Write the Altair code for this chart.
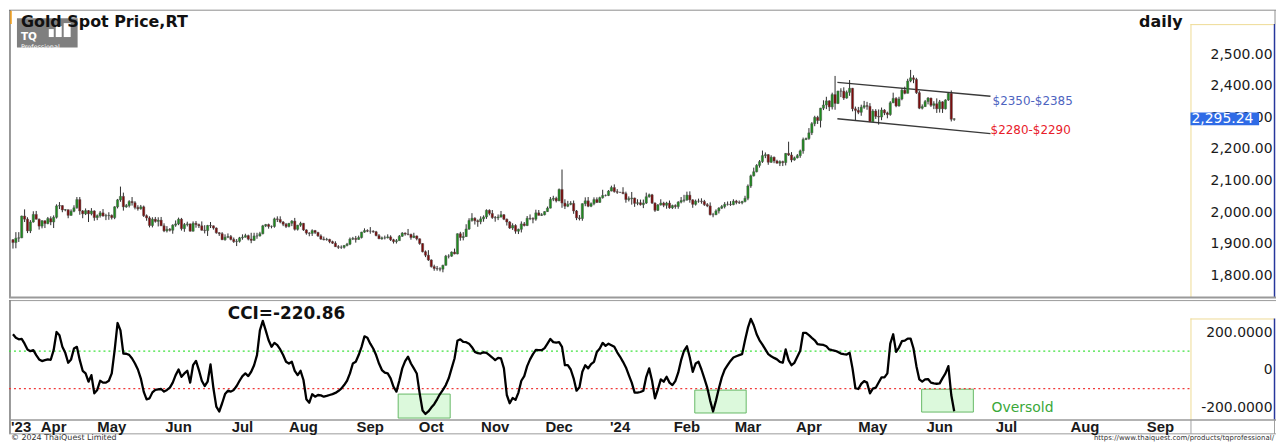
import altair as alt
import pandas as pd

# ---------------- data ----------------
# daily candles, 14 Mar 2023 .. 10 Jun 2024 (one row per weekday)
open_ = [
    1913,1904,1918,1919,1988,1978,1941,1969,1993,1978,1956,1973,1964,1980,
    1969,1984,2020,2021,2007,2008,1990,2003,2014,2040,2004,1995,2005,1995,2004,1983,1989,1998,1988,1989,
    1990,1983,2017,2039,2050,2017,2021,2034,2030,2015,2011,2017,1989,1982,1958,1978,1971,1975,1957,1941,1946,1943,1959,
    1963,1978,1948,1961,1963,1940,1965,1961,1957,1943,1942,1958,1957,1950,1935,1932,1913,1921,1923,1914,1907,1908,
    1919,1921,1926,1915,1911,1925,1925,1932,1957,1961,1955,1955,1979,1977,1969,1962,1955,1965,1972,1946,1959,
    1965,1944,1934,1933,1942,1936,1925,1915,1913,1914,1907,1902,1891,1889,1889,1895,1899,1915,1917,1914,1920,1937,1942,
    1940,1940,1938,1926,1916,1919,1919,1922,1913,1907,1910,1924,1934,1931,1930,1920,1925,1916,1901,1875,1864,
    1849,1828,1822,1821,1820,1832,1861,1861,1874,1868,1932,1920,1923,1947,1974,1981,1973,1970,1979,1985,2006,1996,
    1983,1982,1985,1992,1978,1969,1950,1958,1940,1946,1963,1958,1981,1980,1978,1998,1990,1992,2002,2013,2041,2044,
    2036,2072,2029,2019,2025,2028,2004,1982,1980,2027,2036,2019,2027,2040,2031,2046,2053,2053,2067,2078,2065,
    2063,2063,2059,2040,2043,2045,2028,2030,2024,2029,2049,2055,2029,2006,2023,2029,2022,2029,2014,2021,2018,2032,2037,
    2039,2054,2039,2025,2035,2035,2034,2024,2020,1992,1992,2004,2013,2018,2025,2025,2024,2035,2031,2030,2034,
    2044,2083,2115,2128,2148,2160,2179,2182,2158,2174,2162,2155,2160,2157,2186,2181,2165,2172,2179,2194,2230,
    2233,2251,2280,2300,2290,2329,2339,2352,2333,2372,2344,2383,2383,2361,2379,2392,2327,2322,2316,2332,2337,2335,
    2286,2320,2303,2301,2323,2314,2309,2346,2360,2336,2358,2386,2376,2415,2425,2420,2378,2329,2334,2350,2361,2338,2343,
    2327,2349,2327,2355,2376,2294,
]
high = [
    1915,1937,1937,1989,2009,1984,1975,2003,2004,1980,1975,1974,1985,1987,
    1990,2025,2032,2022,2010,2008,2009,2022,2048,2048,2007,2012,2007,2013,2006,1993,2004,2010,1995,2000,
    1993,2019,2042,2081,2062,2026,2038,2048,2035,2022,2023,2021,1993,1987,1984,1985,1984,1985,1965,1956,1950,1962,1974,
    1983,1982,1966,1970,1964,1971,1972,1964,1971,1959,1960,1969,1958,1952,1937,1937,1930,1933,1928,1920,1915,1922,
    1930,1932,1929,1935,1935,1935,1938,1960,1963,1964,1958,1983,1987,1987,1972,1966,1966,1975,1982,1960,1970,
    1966,1946,1937,1946,1944,1938,1930,1923,1919,1916,1910,1908,1896,1895,1896,1903,1920,1922,1925,1926,1938,1949,1946,
    1953,1943,1941,1931,1923,1926,1930,1927,1916,1915,1928,1937,1936,1947,1932,1935,1926,1917,1902,1879,1880,
    1851,1834,1830,1826,1834,1865,1867,1876,1885,1933,1938,1937,1962,1981,1997,1984,1977,1987,1990,2009,2009,2007,
    1988,1993,2004,1994,1980,1972,1965,1962,1948,1971,1969,1988,1993,1984,2008,2007,1997,2003,2018,2048,2052,2049,
    2075,2135,2041,2036,2035,2037,2007,1991,2028,2047,2048,2031,2047,2047,2049,2071,2056,2070,2084,2088,2073,
    2064,2079,2065,2050,2064,2046,2041,2040,2040,2062,2059,2058,2031,2026,2041,2033,2033,2037,2024,2025,2035,2048,2055,
    2065,2066,2041,2040,2043,2044,2039,2029,2031,1998,2009,2016,2023,2032,2034,2035,2041,2039,2037,2036,2052,
    2088,2119,2141,2152,2165,2195,2189,2184,2180,2176,2166,2164,2163,2187,2223,2190,2176,2184,2198,2236,2236,
    2266,2285,2305,2305,2330,2354,2365,2354,2378,2431,2384,2392,2395,2385,2418,2393,2334,2333,2340,2352,2349,2345,
    2326,2326,2325,2331,2326,2318,2351,2378,2364,2365,2392,2397,2422,2450,2433,2425,2384,2341,2355,2364,2362,2351,2360,
    2355,2351,2357,2379,2385,2297,
]
low = [
    1885,1886,1906,1918,1969,1934,1934,1967,1977,1945,1949,1950,1962,1959,
    1950,1980,2010,2000,2003,1981,1989,2000,2011,1992,1981,1991,1969,1990,1973,1975,1983,1986,1975,1976,
    1977,1978,2012,2033,2005,2014,2015,2021,2009,2005,2008,1985,1973,1952,1952,1967,1955,1957,1937,1936,1939,1932,1954,
    1959,1942,1938,1955,1939,1939,1951,1950,1942,1933,1925,1950,1945,1932,1925,1912,1910,1918,1911,1903,1893,1904,
    1913,1920,1911,1902,1910,1916,1923,1930,1953,1948,1949,1951,1969,1965,1956,1950,1952,1956,1942,1942,1954,
    1941,1929,1924,1925,1931,1922,1913,1911,1910,1902,1900,1890,1884,1884,1885,1892,1896,1912,1904,1913,1917,1935,1937,
    1932,1935,1924,1915,1913,1914,1917,1909,1901,1901,1910,1922,1926,1927,1913,1918,1911,1897,1873,1858,1846,
    1825,1815,1815,1813,1810,1832,1854,1859,1867,1867,1910,1911,1922,1944,1970,1961,1954,1962,1970,1979,1990,1979,
    1970,1975,1983,1975,1958,1947,1944,1932,1931,1936,1955,1956,1975,1965,1973,1990,1988,1990,2001,2012,2035,2031,
    2035,2014,2010,2016,2022,1995,1975,1974,1973,2019,2016,2016,2022,2029,2030,2043,2050,2051,2066,2062,2058,
    2062,2057,2030,2034,2024,2017,2022,2021,2013,2026,2046,2026,2001,2004,2021,2016,2011,2011,2010,2011,2011,2028,2031,
    2036,2030,2014,2021,2030,2027,2020,2016,1990,1984,1991,1996,2010,2012,2021,2020,2022,2025,2026,2025,2031,
    2038,2077,2113,2126,2141,2156,2171,2150,2156,2155,2154,2146,2146,2148,2178,2158,2163,2170,2172,2185,2228,
    2229,2244,2272,2279,2268,2323,2326,2320,2325,2324,2342,2364,2355,2359,2368,2319,2291,2310,2305,2327,2324,2285,
    2285,2295,2277,2291,2307,2297,2305,2345,2332,2334,2354,2373,2376,2411,2408,2374,2326,2325,2333,2341,2333,2326,2314,
    2315,2314,2325,2352,2287,2289,
]
close = [
    1904,1918,1919,1988,1978,1941,1969,1993,1978,1956,1973,1964,1980,1969,
    1984,2020,2021,2007,2008,1990,2003,2014,2040,2004,1995,2005,1995,2004,1983,1989,1998,1988,1989,1990,
    1983,2017,2039,2050,2017,2021,2034,2030,2015,2011,2017,1989,1982,1958,1978,1971,1975,1957,1941,1946,1943,1959,1963,
    1978,1948,1961,1963,1940,1965,1961,1957,1943,1942,1958,1957,1950,1935,1932,1913,1921,1923,1914,1907,1908,1919,
    1921,1926,1915,1911,1925,1925,1932,1957,1961,1955,1955,1979,1977,1969,1962,1955,1965,1972,1946,1959,1965,
    1944,1934,1933,1942,1936,1925,1915,1913,1914,1907,1902,1891,1889,1889,1895,1899,1915,1917,1914,1920,1937,1942,1940,
    1940,1938,1926,1916,1919,1919,1922,1913,1907,1910,1924,1934,1931,1930,1920,1925,1916,1901,1875,1864,1849,
    1828,1822,1821,1820,1832,1861,1861,1874,1868,1932,1920,1923,1947,1974,1981,1973,1970,1979,1985,2006,1996,1983,
    1982,1985,1992,1978,1969,1950,1958,1940,1946,1963,1958,1981,1980,1978,1998,1990,1992,2002,2013,2041,2044,2036,
    2072,2029,2019,2025,2028,2004,1982,1980,2027,2036,2019,2027,2040,2031,2046,2053,2053,2067,2078,2065,2063,
    2063,2059,2040,2043,2045,2028,2030,2024,2029,2049,2055,2029,2006,2023,2029,2022,2029,2014,2021,2018,2032,2037,2039,
    2054,2039,2025,2035,2035,2034,2024,2020,1992,1992,2004,2013,2018,2025,2025,2024,2035,2031,2030,2034,2044,
    2083,2115,2128,2148,2160,2179,2182,2158,2174,2162,2155,2160,2157,2186,2181,2165,2172,2179,2194,2230,2233,
    2251,2280,2300,2290,2329,2339,2352,2333,2372,2344,2383,2383,2361,2379,2392,2327,2322,2316,2332,2337,2335,2286,
    2320,2303,2301,2323,2314,2309,2346,2360,2336,2358,2386,2376,2415,2425,2420,2378,2329,2334,2350,2361,2338,2343,2327,
    2349,2327,2355,2376,2294,2295.24,
]
cci = [
    190,171,163,165,140,109,100,105,79,56,
    47,52,56,54,105,202,185,123,91,38,
    56,114,123,52,-5,-19,-63,-28,-125,-107,
    -58,-68,-68,-58,-19,105,250,211,87,86,
    80,61,34,2,-45,-116,-157,-152,-120,-107,
    -104,-102,-116,-107,-95,-68,-28,2,-37,-19,
    -5,-68,25,48,-1,-58,-86,-63,29,-98,
    -196,-222,-178,-129,-111,-116,-107,-86,-58,-33,
    -19,-33,-10,25,79,211,261,211,158,123,
    144,132,109,79,43,34,43,-5,-28,-5,
    -54,-157,-175,-130,-143,-134,-136,-143,-139,-134,
    -129,-123,-113,-100,-81,-58,-19,34,43,79,
    123,179,171,140,114,79,34,-1,-15,-19,
    -45,-90,-116,-58,8,47,70,34,8,-19,
    -125,-217,-235,-222,-201,-183,-157,-129,-107,-81,
    -45,8,61,155,163,149,148,140,121,96,
    89,87,94,91,79,66,52,64,61,8,
    -134,-178,-150,-160,-121,-58,-33,20,56,84,
    107,105,105,116,140,165,148,146,148,123,
    25,25,2,-45,-111,-93,-10,25,8,31,
    43,96,114,144,128,140,132,123,94,70,
    43,13,-28,-68,-121,-121,-118,-111,-37,8,
    -58,-152,-104,-51,-63,-37,-68,-81,-60,-15,
    52,102,126,66,-10,34,43,2,-45,-95,
    -164,-222,-164,-98,-40,1,25,48,66,73,
    79,84,158,225,272,238,190,158,135,109,
    84,73,64,56,43,38,109,52,25,38,
    70,102,197,197,185,171,158,137,135,133,
    126,109,105,102,96,87,84,82,91,8,
    -98,-102,-75,-60,-68,-125,-100,-95,-67,-40,
    -40,-19,140,190,96,119,153,156,167,167,
    114,20,-51,-63,-51,-49,-68,-72,-74,-72,
    -44,-19,20,-134,-220.86,
]

month_names = ["'23", "Apr", "May", "Jun", "Jul", "Aug", "Sep", "Oct", "Nov", "Dec",
               "'24", "Feb", "Mar", "Apr", "May", "Jun", "Jul", "Aug", "Sep"]
month_pos = [2.8, 14, 34, 57, 79, 100, 123, 144, 166, 188, 209, 232, 253, 274, 296, 319, 342, 369, 395]

price_ticks = [1800, 1900, 2000, 2100, 2200, 2300, 2400, 2500]
cci_ticks = [-200, 0, 200]
cci_levels = [100, -100]
cci_level_colors = ["#3fe23f", "#f03a3a"]

# trend channel (day index, price)
chan_x1 = [283.8, 283.8]
chan_y1 = [2410.7, 2295.6]
chan_x2 = [336.5, 336.5]
chan_y2 = [2366.7, 2248.7]

# oversold boxes (day index, CCI)
box_x1 = [132.6, 234.7, 312.8]
box_x2 = [150.5, 252.4, 330.6]
box_top = [-129, -108, -103]
box_bot = [-257, -230, -225]

title_text = "Gold Spot Price,RT"
period_text = "daily"
upper_text = "$2350-$2385"
lower_text = "$2280-$2290"
oversold_text = "Oversold"
logo_text = "TQ"
logo_sub = "Professional"
copyright_text = "\u00a9 2024 ThaiQuest Limited"
url_text = "https://www.thaiquest.com/products/tqprofessional/"

# ---------------- chart ----------------
W, H1, H2 = 1187, 290, 121
GREEN, RED = "#1e8c1e", "#7e0a0a"
YEL, BLUE = "#eedb95", "#27379c"

df = pd.DataFrame({"i": list(range(len(close))), "open": open_, "high": high,
                   "low": low, "close": close, "cci": cci})
last = df.tail(1)

xs = alt.Scale(domain=[-1.37, 405], nice=False, zero=False, padding=0)
ys = alt.Scale(domain=[1730, 2642], nice=False, zero=False)
cs = alt.Scale(domain=[-267, 375], nice=False, zero=False)

price_axis = alt.Axis(orient="right", values=price_ticks, format=",.2f", labelAlign="right",
                      labelBaseline="middle", labelPadding=83, ticks=False, tickSize=0,
                      domain=False, grid=False, labelFont="DejaVu Sans", labelFontSize=14,
                      labelColor="#1a1a1a", labelOverlap=False, labelFlush=False, title=None)
cci_axis = alt.Axis(orient="right", values=cci_ticks,
                    labelExpr="datum.value == 0 ? '0' : (datum.value < 0 ? '-' : '') + format(abs(datum.value), '.4f')",
                    labelAlign="right", labelBaseline="middle", labelPadding=83, ticks=False,
                    tickSize=0, domain=False, grid=False, labelFont="DejaVu Sans", labelFontSize=14,
                    labelColor="#1a1a1a", labelOverlap=False, labelFlush=False, title=None)

one = pd.DataFrame({"k": [0]})


def seg(x1, y1, x2, y2, color, w=1.0):
    return alt.Chart(one).mark_rule(color=color, strokeWidth=w, strokeCap="butt").encode(
        x=alt.value(x1), x2=alt.value(x2), y=alt.value(y1), y2=alt.value(y2))


def box(x1, y1, x2, y2, color):
    return alt.Chart(one).mark_rect(color=color).encode(
        x=alt.value(x1), x2=alt.value(x2), y=alt.value(y1), y2=alt.value(y2))


def label(txt, x, y, **kw):
    return alt.Chart(pd.DataFrame({"t": [txt]})).mark_text(**kw).encode(
        x=alt.value(x), y=alt.value(y), text="t:N")


X = alt.X("i:Q", scale=xs, axis=None)

wicks = alt.Chart(df).mark_rule(color="#2b2b2b", strokeWidth=1).encode(
    x=X, y=alt.Y("low:Q", scale=ys, axis=price_axis), y2="high:Q")
bodies = alt.Chart(df).mark_bar(size=2.2, stroke="#505050", strokeWidth=0.5).encode(
    x=X, y=alt.Y("open:Q", scale=ys, axis=price_axis), y2="close:Q",
    color=alt.condition(alt.datum.close >= alt.datum.open, alt.value(GREEN), alt.value(RED)))
chan_df = pd.DataFrame({"x1": chan_x1, "y1": chan_y1, "x2": chan_x2, "y2": chan_y2})
channel = alt.Chart(chan_df).mark_rule(color="#3a3a3a", strokeWidth=1.3).encode(
    x=alt.X("x1:Q", scale=xs, axis=None), x2="x2:Q",
    y=alt.Y("y1:Q", scale=ys, axis=price_axis), y2="y2:Q")
pbox = alt.Chart(last).mark_rule(color="#2f6be6", strokeWidth=13, strokeCap="butt").encode(
    x=alt.value(1188), x2=alt.value(1257), y=alt.Y("close:Q", scale=ys, axis=price_axis))
ptext = alt.Chart(last).mark_text(align="left", baseline="middle", font="DejaVu Sans",
                                  fontSize=14, color="white").encode(
    x=alt.value(1189), y=alt.Y("close:Q", scale=ys, axis=price_axis),
    text=alt.Text("close:Q", format=",.2f"))

price_panel = alt.layer(
    seg(0, 1, 1274, 1, "#8c8c8c"),
    seg(1, 1, 1, H1, "#333333"),
    seg(2, 1.5, 2, 15, "#f39c12", 1.5),
    seg(1273, 1, 1273, 15, "#8c8c8c"),
    seg(1188.5, 15, 1188.5, H1, YEL),
    seg(1188, 15.5, 1272, 15.5, YEL),
    seg(1272.5, 15, 1272.5, H1, BLUE, 1.5),
    seg(0, H1, 1274, H1, "#9a9a9a", 2),
    channel, wicks, bodies, pbox, ptext,
    label(upper_text, 989, 92, align="left", font="DejaVu Sans", fontSize=12, color="#4e64bf"),
    label(lower_text, 987, 121.3, align="left", font="DejaVu Sans", fontSize=12, color="#e8202a"),
    box(8, 9, 69, 38.5, "#7f7f7f"),
    box(40, 20, 45, 28, "white"),
    box(47, 17, 53, 28, "white"),
    box(55, 14, 62, 28, "white"),
    label(logo_text, 12, 28.2, align="left", font="DejaVu Sans", fontSize=10.5, fontWeight="bold", color="white"),
    label(logo_sub, 12, 37.6, align="left", font="DejaVu Sans", fontSize=6.5, color="white"),
    label(title_text, 12, 13.3, align="left", font="DejaVu Sans", fontSize=16, fontWeight="bold", color="#111111"),
    label(period_text, 1180, 13.3, align="right", font="DejaVu Sans", fontSize=16, fontWeight="bold", color="#111111"),
).properties(width=W, height=H1)

box_df = pd.DataFrame({"x1": box_x1, "x2": box_x2, "top": box_top, "bot": box_bot})
boxes = alt.Chart(box_df).mark_rect(fill="#dcf9dc", stroke="#66b866", strokeWidth=1).encode(
    x=alt.X("x1:Q", scale=xs, axis=None), x2="x2:Q",
    y=alt.Y("top:Q", scale=cs, axis=cci_axis), y2="bot:Q")
lev_df = pd.DataFrame({"level": cci_levels, "col": cci_level_colors})
levels = alt.Chart(lev_df).mark_rule(strokeDash=[2, 3], strokeWidth=1.3).encode(
    y=alt.Y("level:Q", scale=cs, axis=cci_axis), color=alt.Color("col:N", scale=None))
cci_line = alt.Chart(df).mark_line(color="black", strokeWidth=2.3, strokeJoin="round").encode(
    x=X, y=alt.Y("cci:Q", scale=cs, axis=cci_axis))
cci_label = alt.Chart(last).transform_calculate(
    lab="'CCI=' + (datum.cci < 0 ? '-' : '') + format(abs(datum.cci), '.2f')"
).mark_text(align="left", font="DejaVu Sans", fontSize=17, fontWeight="bold", color="#111111").encode(
    x=alt.value(220), y=alt.value(15), text="lab:N")
month_df = pd.DataFrame({"name": month_names, "pos": month_pos})
months = alt.Chart(month_df).mark_text(baseline="middle", font="Liberation Sans", fontWeight="bold",
                                       fontSize=15, color="#1a1a1a").encode(
    x=alt.X("pos:Q", scale=xs, axis=None), y=alt.value(128.5), text="name:N")

cci_panel = alt.layer(
    seg(0, 1, 1274, 1, "#9a9a9a", 1),
    seg(1, 1, 1, 135, "#333333"),
    seg(1188.5, 19, 1188.5, H2, YEL),
    seg(1188, 19.5, 1272, 19.5, YEL),
    seg(1272.5, 19, 1272.5, H2, BLUE, 1.5),
    seg(1188.5, H2, 1188.5, 135, "#a0a0a0"),
    seg(1272.5, H2, 1272.5, 135, "#a0a0a0"),
    seg(0, H2, 1274, H2, "#9a9a9a", 1.5),
    seg(0, 135, 1274, 135, "#9a9a9a", 1),
    boxes, levels, cci_line, cci_label, months,
    label(oversold_text, 988, 109, align="left", font="DejaVu Sans", fontSize=14, color="#3aa83a"),
    label(copyright_text, 2, 139.5, align="left", font="DejaVu Sans", fontSize=8, color="#333333"),
    label(url_text, 1272, 139.5, align="right", font="DejaVu Sans", fontSize=7, color="#333333"),
).properties(width=W, height=H2)

chart = alt.vconcat(price_panel, cci_panel, spacing=2, bounds="flush").properties(
    padding=0
).configure_view(strokeWidth=0)

chart.save("out.html", embed_options={"renderer": "svg", "actions": False})
